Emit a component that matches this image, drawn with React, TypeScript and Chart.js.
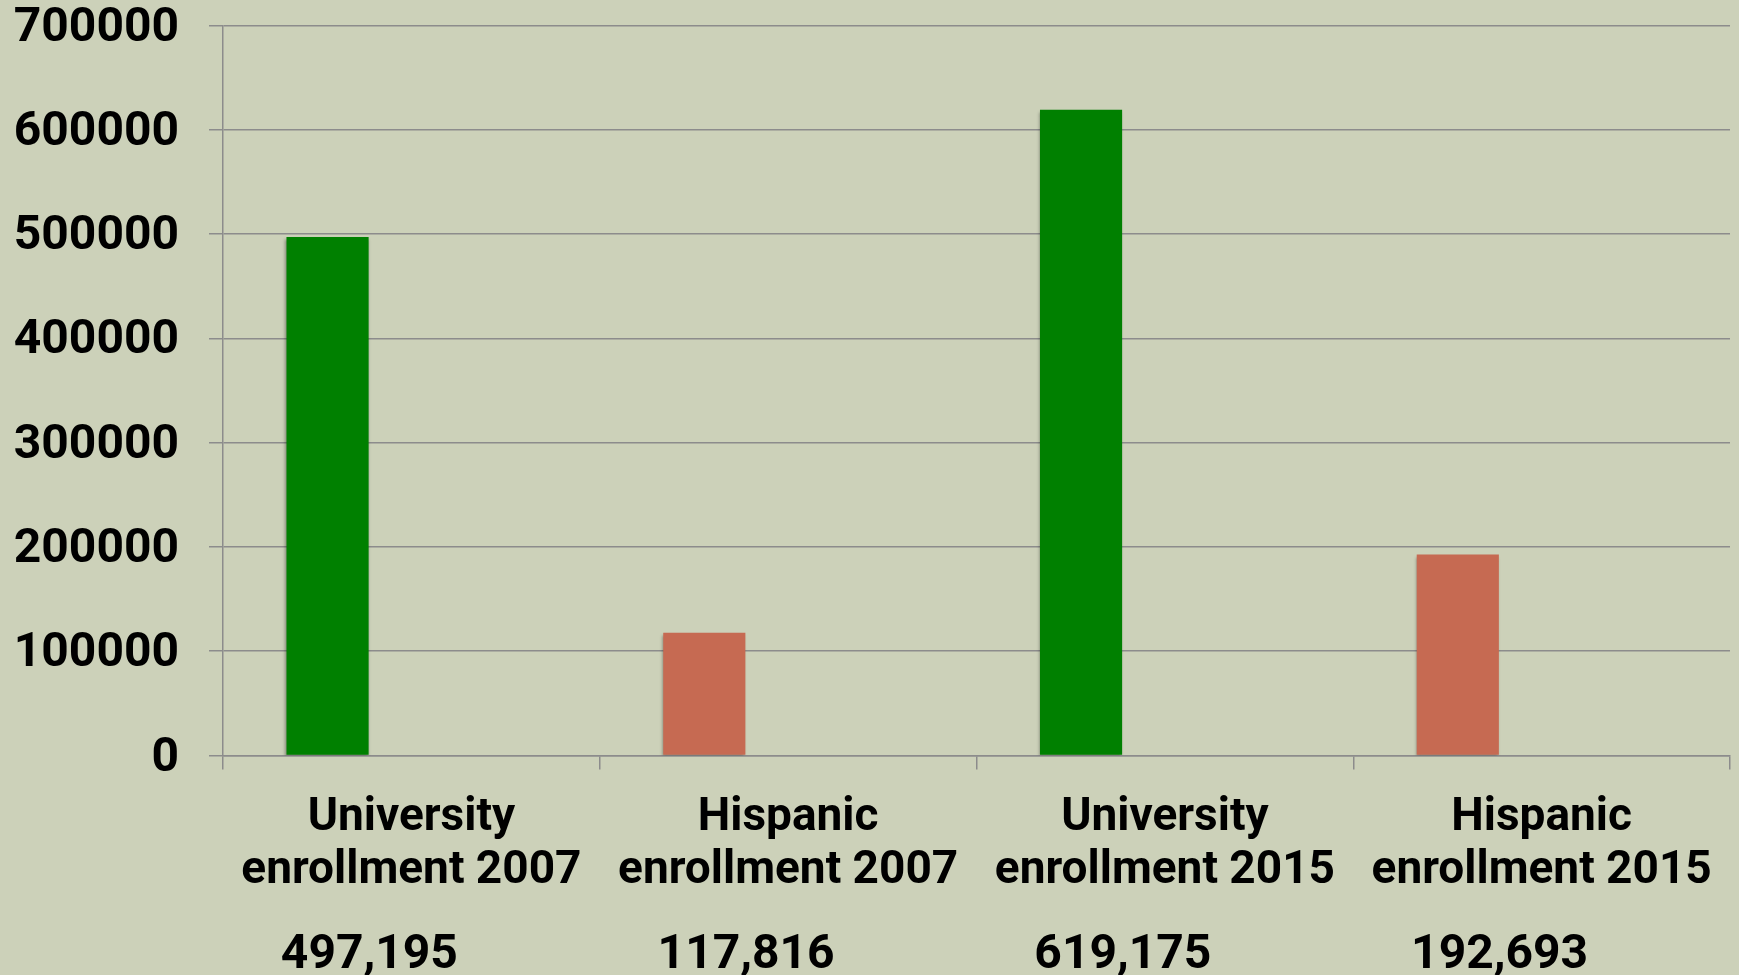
import React, { useEffect, useRef } from "react";
import { Chart, registerables } from "chart.js";

Chart.register(...registerables);

const categories: string[][] = [
  ["University", "enrollment 2007"],
  ["Hispanic", "enrollment 2007"],
  ["University", "enrollment 2015"],
  ["Hispanic", "enrollment 2015"],
];
const enrollment: number[] = [497195, 117816, 619175, 192693];
const emptySeries: (number | null)[] = [null, null, null, null];
const valueLabels: string[] = ["497,195", "117,816", "619,175", "192,693"];
const barColors: string[] = ["#008000", "#C66A52", "#008000", "#C66A52"];
const yTicks: number[] = [0, 100000, 200000, 300000, 400000, 500000, 600000, 700000];

const FONT = "Roboto, 'Liberation Sans', Arial, sans-serif";
const GRID = "#8C8C8C";
const BG = "#CCD1B9";

const shadowPlugin = {
  id: "barShadow",
  beforeDatasetsDraw(chart: any) {
    const ctx = chart.ctx;
    ctx.save();
    ctx.shadowColor = "rgba(0,0,0,0.35)";
    ctx.shadowBlur = 3;
    ctx.shadowOffsetX = -1;
    ctx.shadowOffsetY = 2;
  },
  afterDatasetsDraw(chart: any) {
    chart.ctx.restore();
  },
};

const valueLabelPlugin = {
  id: "valueLabels",
  afterDraw(chart: any) {
    const ctx = chart.ctx;
    const xs = chart.scales.x;
    ctx.save();
    ctx.font = `bold 48px ${FONT}`;
    ctx.fillStyle = "#000";
    ctx.textAlign = "center";
    ctx.textBaseline = "middle";
    valueLabels.forEach((t, i) => {
      ctx.fillText(t, xs.getPixelForValue(i) - 42, chart.height - 19);
    });
    ctx.restore();
  },
};

export default function App() {
  const ref = useRef<HTMLCanvasElement | null>(null);
  useEffect(() => {
    document.body.style.margin = "0";
    document.body.style.background = BG;
    if (!ref.current) return;
    const chart = new Chart(ref.current, {
      type: "bar",
      data: {
        labels: categories,
        datasets: [
          {
            label: "Enrollment",
            data: enrollment,
            backgroundColor: barColors,
            borderWidth: 0,
            categoryPercentage: 0.89,
            barPercentage: 0.49,
          },
          {
            label: "",
            data: emptySeries,
            backgroundColor: "transparent",
            categoryPercentage: 0.89,
            barPercentage: 0.49,
          },
        ],
      },
      options: {
        animation: false,
        responsive: true,
        maintainAspectRatio: false,
        devicePixelRatio: 1,
        layout: { padding: { top: 25.5, right: 9, left: 0, bottom: 0 } },
        plugins: {
          legend: { display: false },
          tooltip: { enabled: false },
          title: { display: false },
        },
        scales: {
          x: {
            afterFit: (s: any) => {
              s.height = 219.5;
            },
            grid: {
              display: true,
              drawOnChartArea: false,
              drawTicks: true,
              tickLength: 14,
              color: GRID,
              lineWidth: 1.5,
              offset: true,
            },
            border: { display: true, color: GRID, width: 1.5 },
            ticks: {
              color: "#000",
              font: { family: FONT, size: 46, weight: "bold", lineHeight: 1.15 },
              padding: 23,
              maxRotation: 0,
              autoSkip: false,
            },
          },
          y: {
            min: 0,
            max: 700000,
            afterFit: (s: any) => {
              s.width = 223;
              s.paddingTop = 0;
              s.paddingBottom = 0;
            },
            afterBuildTicks: (s: any) => {
              s.ticks = yTicks.map((v) => ({ value: v }));
            },
            grid: {
              color: GRID,
              lineWidth: 1.5,
              tickLength: 14,
              drawTicks: true,
            },
            border: { display: true, color: GRID, width: 1.5 },
            ticks: {
              color: "#000",
              font: { family: FONT, size: 48, weight: "bold", lineHeight: 1.0 },
              padding: 30,
              labelOffset: 3,
              callback: (v: any) => String(v),
            },
          },
        },
      },
      plugins: [shadowPlugin, valueLabelPlugin],
    });
    return () => chart.destroy();
  }, []);
  return (
    <div style={{ width: 1739, height: 975, background: BG, position: "relative" }}>
      <canvas ref={ref} />
    </div>
  );
}
